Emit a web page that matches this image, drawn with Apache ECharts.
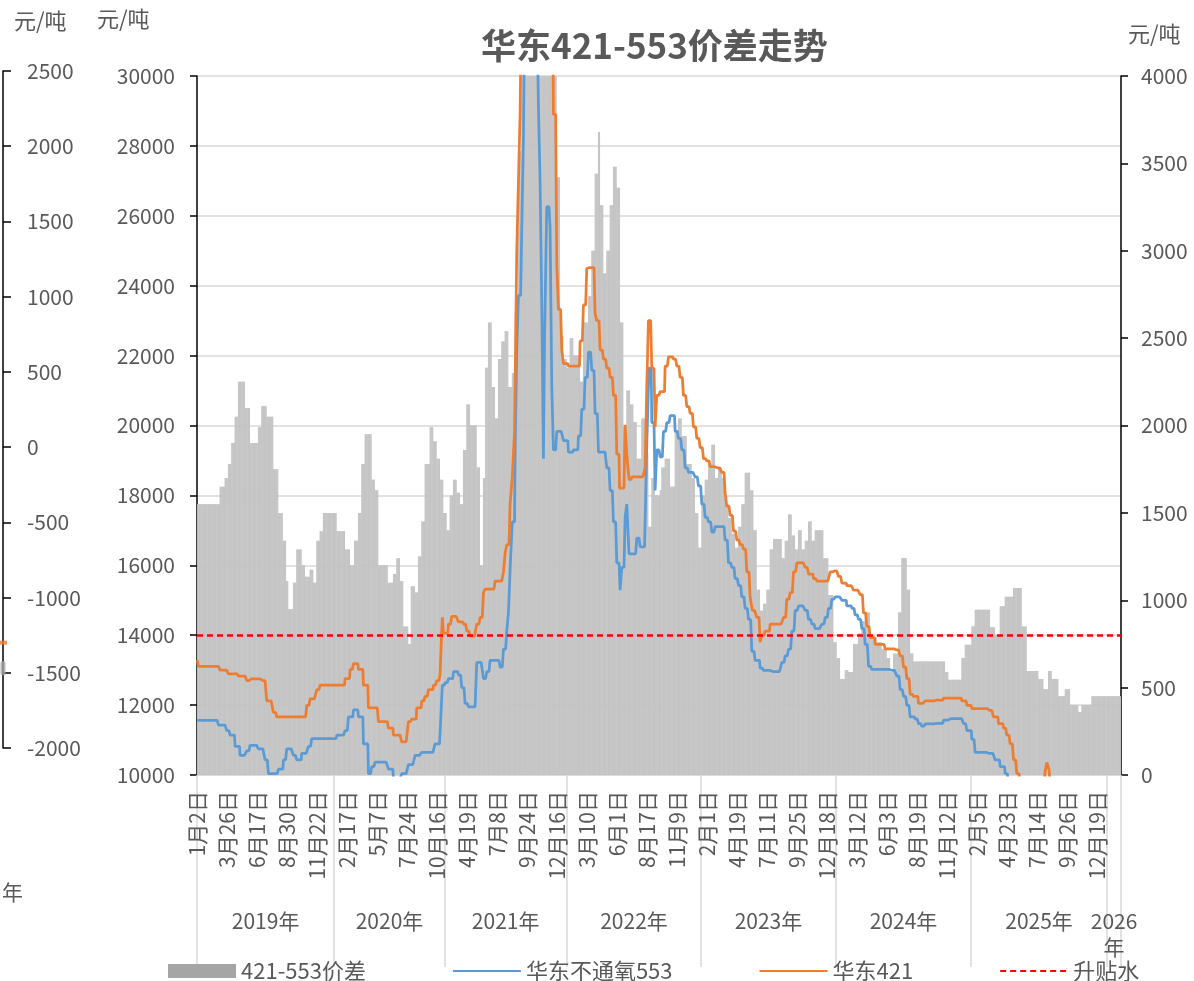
<!DOCTYPE html>
<html>
<head>
<meta charset="utf-8">
<title>华东421-553价差走势</title>
<script src="https://cdn.jsdelivr.net/npm/echarts@6.0.0/dist/echarts.min.js"></script>
<style>
  html, body { margin: 0; padding: 0; background: #fff; }
  #main { width: 1194px; height: 981px; }
</style>
</head>
<body>
<div id="main"></div>
<script>
// 交易日数量（2019-01-02 起）
const N = 1663
const tickStep = 54
const tickLabels = ['1月2日', '3月26日', '6月17日', '8月30日', '11月22日',
  '2月17日', '5月7日', '7月24日', '10月16日',
  '4月19日', '7月8日', '9月24日', '12月16日',
  '3月10日', '6月1日', '8月17日', '11月9日',
  '2月1日', '4月19日', '7月11日', '9月25日', '12月18日',
  '3月12日', '6月3日', '8月19日', '11月12日',
  '2月5日', '4月23日', '7月14日', '9月26日', '12月19日']
const years = ['2019年', '2020年', '2021年', '2022年', '2023年', '2024年', '2025年', '2026\n年']
const yearStarts = [0, 247, 445, 665, 907, 1150, 1393, 1637]
const premium = 800
// 最左侧残留坐标轴上的两个小标记
const farLeftMarks = [-1300, -1470]

// [起始交易日序号, 数值]，数值保持到下一段
const diffRuns = [[0,1550],[41,1650],[50,1700],[56,1780],[62,1900],[68,2050],[74,2250],[86,2100],[95,1900],[110,1990],[116,2110],[125,2050],[137,1750],[146,1500],[154,1340],[160,1110],[164,950],[173,1100],[179,1290],[188,1200],[194,1135],[203,1175],[209,1100],[215,1340],[221,1395],[227,1500],[251,1395],[266,1290],[275,1200],[283,1340],[290,1500],[296,1780],[302,1950],[314,1690],[320,1630],[326,1200],[343,1100],[353,1150],[359,1240],[365,1110],[371,850],[380,750],[385,1080],[392,1045],[398,1250],[404,1450],[410,1780],
  [419,1990],[425,1910],[431,1810],[437,1690],[443,1500],[449,1400],[455,1600],[461,1690],[467,1615],[473,1550],[479,1860],[485,2120],[491,2000],[503,1760],[509,1200],[515,1700],[519,2330],[524,2590],[530,2220],[536,2040],[542,2380],[548,2480],[554,2540],[560,2220],[567,2300],[572,2640],[578,3570],[584,4400],[602,4800],[626,4500],[647,3420],[653,2510],[659,2380],[665,2330],[671,2500],[677,2400],[689,2250],[695,2590],[704,2740],[710,3000],[716,3440],[722,3680],[725,3260],[731,2870],[737,3000],[743,3260],[749,3480],[755,3360],[761,2590],[767,1990],[773,2200],[779,2120],[785,2020],[791,1810],[800,2040],[806,1840],[812,1420],[818,1700],[824,1600],
  [833,1630],[836,1760],[842,1810],[851,1650],[860,1970],[866,2040],[872,1940],[881,1780],[890,1700],[896,1500],[902,1300],[908,1600],[914,1690],[920,1780],[926,1890],[932,1700],[938,1760],[944,1700],[950,1550],[956,1470],[962,1380],[968,1300],[974,1420],[980,1550],[986,1730],[995,1630],[1001,1400],[1007,1060],[1013,940],[1019,980],[1025,1060],[1031,1290],[1037,1350],[1052,1240],[1058,1340],[1064,1490],[1070,1370],[1076,1290],[1082,1400],[1088,1290],[1094,1340],[1100,1450],[1106,1340],[1112,1400],[1127,1240],[1136,1030],[1145,760],[1151,670],[1157,550],[1166,600],[1172,590],[1181,750],[1190,810],[1196,880],[1202,930],[1211,790],[1223,760],[1232,720],[1241,670],
  [1247,590],[1253,695],[1262,930],[1268,1240],[1277,1060],[1283,695],[1289,650],[1346,590],[1352,545],[1376,670],[1382,745],[1394,850],[1400,945],[1427,845],[1436,800],[1445,965],[1454,1020],[1469,1070],[1484,850],[1493,595],[1514,550],[1523,490],[1532,595],[1538,550],[1550,450],[1562,490],[1571,400],[1586,360],[1592,400],[1610,450]]

const p421Runs = [[0,13280],[2,13110],[41,13000],[56,12890],[74,12830],[89,12700],[95,12750],[116,12700],[125,12120],[137,11790],[143,11660],[197,11990],[203,12180],[215,12440],[221,12570],[266,12760],[275,13020],[281,13190],[290,13020],[299,12570],[308,11920],[326,11530],[344,11340],[353,11140],[368,10950],[380,11530],[386,11600],[395,11920],[404,12120],[410,12250],[416,12440],[425,12570],[431,12700],[437,12890],[441,14510],[443,14060],[452,14320],[458,14540],[470,14380],[479,14320],[485,14120],[491,13970],[503,14320],[509,14510],[515,15220],[518,15320],[536,15550],[551,15810],[554,16330],[557,16590],[563,17750],[567,18530],[571,19830],[573,22420],[575,25010],[578,26950],[581,28900],[584,33000],[590,40000],[602,50000],[626,45000],[638,36000],[641,28900],[647,24620],[650,23320],[656,22160],[659,21770],[668,21700],[689,22420],[695,23450],[701,24490],[704,24520],[716,23200],[719,23000],[725,22160],[731,21900],[737,21640],[743,21380],[749,20860],[755,19180],[760,18210],[770,20020],[773,19180],[777,18460],[782,18530],[806,18790],[809,21120],[812,23000],[818,21640],[824,19960],[827,20860],
  [833,20970],[842,21700],[848,21960],[857,21900],[863,21700],[869,21380],[875,20860],[881,20540],[887,20350],[893,19960],[899,19630],[905,19370],[911,19050],[917,18990],[923,18820],[932,18790],[944,18660],[950,18080],[953,17690],[959,17430],[965,16980],[971,16720],[977,16590],[983,16460],[989,15810],[995,15100],[999,14710],[1007,14510],[1013,13800],[1016,14000],[1022,14120],[1031,14320],[1055,14510],[1061,15030],[1067,15220],[1073,15810],[1079,16070],[1094,15940],[1100,15750],[1109,15620],[1115,15550],[1139,15810],[1145,15840],[1154,15680],[1160,15490],[1169,15420],[1181,15290],[1193,15160],[1199,14640],[1205,14250],[1211,13930],[1220,13740],[1238,13610],
  [1256,13580],[1265,13410],[1271,13090],[1277,12760],[1283,12310],[1289,12250],[1298,12050],[1310,12120],[1328,12140],[1343,12200],[1376,12120],[1385,11990],[1394,11900],[1424,11850],[1433,11660],[1442,11470],[1451,11340],[1457,11140],[1463,10890],[1469,10430],[1475,10040],[1481,9700],[1487,9500],[1526,10100],[1529,10360],[1533,10150],[1536,9500]]

const p553Runs = [[0,11560],[38,11430],[53,11270],[59,11140],[68,10820],[77,10560],[89,10690],[95,10850],[110,10750],[122,10430],[128,10040],[146,10170],[155,10430],[161,10750],[173,10560],[179,10430],[188,10620],[200,10820],[206,11040],[251,11140],[266,11270],[272,11660],[281,11860],[290,11660],[299,10890],[308,10040],[314,10240],[320,10370],[344,10170],[353,9900],[368,10040],[380,10300],[392,10560],[404,10650],[428,10890],[437,11210],[441,12570],[446,12640],[452,12760],[461,12960],[470,12860],[476,12500],[482,12050],[488,11950],[503,13220],[515,12760],[521,12960],[527,13280],[545,13090],[551,13600],[557,14120],[560,14640],[563,15870],[567,17240],[572,19180],[575,22160],[578,23720],[584,25660],[587,28250],[590,33000],[602,38000],[611,32000],[614,29160],[617,26950],[620,23460],[623,19050],[625,22420],[629,26260],[635,25660],[638,21120],[641,19300],[647,19830],[659,19570],[668,19240],[677,19300],[686,19700],[692,20470],[698,21380],[704,22100],[710,21580],[716,20340],[722,19240],[737,18790],[743,18140],[749,17240],[755,16070],[761,15290],[764,15940],[770,17370],[773,17750],[777,16330],[791,16780],[797,16530],[806,17240],[809,19440],[813,21640],[818,20080],[824,18140],[827,19300],
  [833,19100],[839,19830],[845,20080],[851,20280],[860,19830],[866,19630],[872,19300],[878,18790],[884,18660],[896,18530],[902,18270],[908,17750],[914,17370],[920,17240],[926,16950],[932,17110],[950,16720],[956,16070],[962,15940],[968,15620],[974,15420],[980,15100],[986,14770],[992,14450],[998,13540],[1004,13280],[1013,13060],[1019,12990],[1034,12960],[1052,13220],[1058,13410],[1064,13600],[1070,14120],[1076,14710],[1082,14840],[1094,14710],[1100,14450],[1106,14320],[1112,14190],[1124,14320],[1130,14510],[1136,14770],[1142,15030],[1148,15100],[1160,15000],[1169,14840],[1178,14770],[1184,14580],[1190,14450],[1196,14190],[1202,13740],[1208,13110],[1214,13020],
  [1247,12990],[1259,12830],[1265,12440],[1271,12250],[1277,11990],[1283,11660],[1292,11600],[1298,11470],[1304,11400],[1310,11460],[1328,11480],[1343,11570],[1352,11610],[1379,11470],[1385,11270],[1394,11020],[1400,10650],[1424,10620],[1436,10430],[1445,10240],[1454,10040],[1460,9700],[1466,9400]]

// 把分段数据展开成每个交易日一个值
const expand = (runs) => {
  const out = []
  let k = 0
  for (let i = 0; i < N; i++) {
    while (k + 1 < runs.length && runs[k + 1][0] <= i) k++
    out.push(runs[k][1])
  }
  return out
}

const cats = []
for (let i = 0; i < N; i++) cats.push(String(i))
const yearMid = yearStarts.map((s, i) => Math.floor((s + (i + 1 < yearStarts.length ? yearStarts[i + 1] : N)) / 2))

const font = '"Noto Sans CJK SC", "Noto Sans", sans-serif'
const grey = '#595959'
const plain = (v) => String(v)

var myChart = echarts.init(document.getElementById('main'))

var option = {
  animation: false,
  textStyle: { fontFamily: font },
  title: {
    text: '华东421-553价差走势',
    left: 476,
    top: 23,
    textStyle: { fontSize: 35, fontWeight: 'bold', color: grey, fontFamily: font }
  },
  legend: {
    left: 168,
    top: 960,
    padding: 0,
    itemWidth: 68,
    itemHeight: 14,
    itemGap: 86,
    textStyle: { fontSize: 22, color: grey },
    data: [
      { name: '421-553价差', icon: 'rect', itemStyle: { color: '#a5a5a5' } },
      { name: '华东不通氧553', itemStyle: { opacity: 0 } },
      { name: '华东421', itemStyle: { opacity: 0 } },
      { name: '升贴水', itemStyle: { opacity: 0 } }
    ]
  },
  graphic: [
    { type: 'text', left: 14, top: 10, style: { text: '元/吨', fill: grey, font: '22px ' + font } },
    { type: 'text', left: 97, top: 8, style: { text: '元/吨', fill: grey, font: '22px ' + font } },
    { type: 'text', left: 1128, top: 23, style: { text: '元/吨', fill: grey, font: '22px ' + font } },
    { type: 'text', left: 2, top: 882, style: { text: '年', fill: grey, font: '21px ' + font } }
  ],
  grid: [
    { left: 197, right: 73, top: 76, bottom: 206 },
    { left: 3, top: 71, width: 1, height: 677 }
  ],
  xAxis: [
    {
      type: 'category',
      gridIndex: 0,
      data: cats,
      axisLine: { lineStyle: { color: '#d9d9d9', width: 1.5 } },
      axisTick: {
        show: true,
        interval: (idx) => yearStarts.includes(idx),
        length: 192,
        lineStyle: { color: '#d9d9d9', width: 1.5 }
      },
      axisLabel: {
        interval: tickStep - 1,
        rotate: 90,
        margin: 16,
        fontSize: 21,
        color: grey,
        formatter: (v) => tickLabels[Number(v) / tickStep] || ''
      },
      splitLine: { show: false }
    },
    {
      type: 'category',
      gridIndex: 0,
      position: 'bottom',
      offset: 0,
      data: cats,
      axisLine: { show: false },
      axisTick: { show: false },
      axisLabel: {
        interval: (idx) => yearMid.includes(idx),
        margin: 133,
        fontSize: 21,
        color: grey,
        lineHeight: 26,
        formatter: (v) => years[yearMid.indexOf(Number(v))] || ''
      },
      splitLine: { show: false }
    },
    { type: 'value', gridIndex: 1, show: false, min: 0, max: 1 }
  ],
  yAxis: [
    {
      type: 'value',
      gridIndex: 0,
      position: 'left',
      min: 10000,
      max: 30000,
      interval: 2000,
      axisLine: { show: true, lineStyle: { color: '#000', width: 1.5 } },
      axisTick: { show: true, length: 7, lineStyle: { color: '#000', width: 1.5 } },
      axisLabel: { fontSize: 21, color: grey, margin: 22, formatter: plain },
      splitLine: { show: true, lineStyle: { color: '#d9d9d9', width: 1.5 } }
    },
    {
      type: 'value',
      gridIndex: 0,
      position: 'right',
      min: 0,
      max: 4000,
      interval: 500,
      axisLine: { show: true, lineStyle: { color: '#000', width: 1.5 } },
      axisTick: { show: true, length: 7, lineStyle: { color: '#000', width: 1.5 } },
      axisLabel: { fontSize: 21, color: grey, margin: 20, formatter: plain },
      splitLine: { show: false }
    },
    {
      type: 'value',
      gridIndex: 1,
      position: 'left',
      min: -2000,
      max: 2500,
      interval: 500,
      axisLine: { show: true, lineStyle: { color: '#000', width: 1.5 } },
      axisTick: { show: true, inside: true, length: 8, lineStyle: { color: '#000', width: 1.5 } },
      axisLabel: { inside: true, fontSize: 21, color: grey, margin: 24, formatter: plain },
      splitLine: { show: false }
    }
  ],
  series: [
    {
      name: '421-553价差',
      type: 'bar',
      xAxisIndex: 0,
      yAxisIndex: 1,
      data: expand(diffRuns),
      barCategoryGap: '20%',
      itemStyle: { color: '#c4c4c4' }
    },
    {
      name: '华东不通氧553',
      type: 'line',
      xAxisIndex: 0,
      yAxisIndex: 0,
      data: expand(p553Runs),
      symbol: 'none',
      lineStyle: { color: '#5b9bd5', width: 2.75 },
      itemStyle: { color: '#5b9bd5' }
    },
    {
      name: '华东421',
      type: 'line',
      xAxisIndex: 0,
      yAxisIndex: 0,
      data: expand(p421Runs),
      symbol: 'none',
      lineStyle: { color: '#ed7d31', width: 2.75 },
      itemStyle: { color: '#ed7d31' }
    },
    {
      name: '升贴水',
      type: 'line',
      xAxisIndex: 0,
      yAxisIndex: 1,
      data: [],
      symbol: 'none',
      lineStyle: { color: '#ff0000', width: 2.5, type: [6, 4] },
      itemStyle: { color: '#ff0000' },
      markLine: {
        silent: true,
        symbol: 'none',
        label: { show: false },
        lineStyle: { color: '#ff0000', width: 2.5, type: [6, 4] },
        data: [{ yAxis: premium }]
      }
    },
    {
      name: 'far-left',
      type: 'scatter',
      xAxisIndex: 2,
      yAxisIndex: 2,
      silent: true,
      data: [
        { value: [0, farLeftMarks[0]], symbol: 'rect', symbolSize: [8, 4], itemStyle: { color: '#ed7d31' } },
        { value: [0, farLeftMarks[1]], symbol: 'roundRect', symbolSize: [5, 14], itemStyle: { color: '#a5a5a5' } }
      ]
    }
  ]
}

myChart.setOption(option)
</script>
</body>
</html>
